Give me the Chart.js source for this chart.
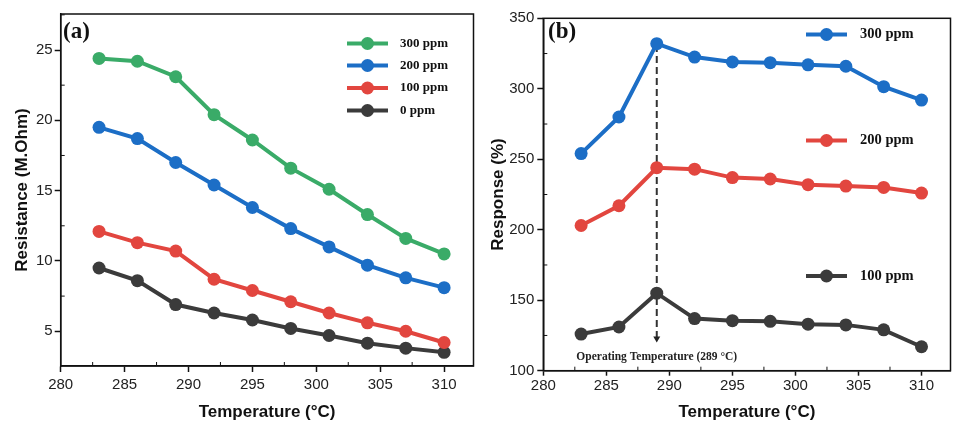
<!DOCTYPE html>
<html><head><meta charset="utf-8">
<script src="https://cdn.jsdelivr.net/npm/chart.js@4.4.0/dist/chart.umd.min.js"></script>
<style>
html,body{margin:0;padding:0;background:#fff;}
#wrap{position:relative;width:957px;height:423px;overflow:hidden;background:#fff;}
#ca{position:absolute;left:0;top:0;}
#cb{position:absolute;left:480px;top:0;}
</style></head><body>
<div id="wrap"><canvas id="ca" width="480" height="423"></canvas><canvas id="cb" width="477" height="423"></canvas></div>
<script>
// ---------- data ----------
const temperatures = [283, 286, 289, 292, 295, 298, 301, 304, 307, 310];
// (a) resistance (M.Ohm)
const resistance300 = [24.4, 24.2, 23.1, 20.4, 18.6, 16.6, 15.1, 13.3, 11.6, 10.5];
const resistance200 = [19.5, 18.7, 17.0, 15.4, 13.8, 12.3, 11.0, 9.7, 8.8, 8.1];
const resistance100 = [12.1, 11.3, 10.7, 8.7, 7.9, 7.1, 6.3, 5.6, 5.0, 4.2];
const resistance0   = [9.5, 8.6, 6.9, 6.3, 5.8, 5.2, 4.7, 4.15, 3.8, 3.5];
// (b) response (%)
const response300 = [254, 280, 332, 322.5, 319, 318.5, 317, 316, 301.5, 292];
const response200 = [203, 217, 244, 243, 237, 236, 232, 231, 230, 226];
const response100 = [126, 131, 155, 137, 135.5, 135, 133, 132.5, 129, 117];
// ticks
const xTicks = [280, 285, 290, 295, 300, 305, 310];
const resistanceTicks = [5, 10, 15, 20, 25];
const responseTicks = [100, 150, 200, 250, 300, 350];
// annotation
const operatingTemp = 289;
const arrowFrom = 331;
const arrowTo = 120;
const operatingLabel = 'Operating Temperature (289 °C)';

// ---------- styles ----------
const GREEN = '#3aab68', BLUE = '#1c6ec6', RED = '#e2463f', DARK = '#3b3b3b';
const SANS = '"Liberation Sans", Arial, sans-serif';
const SERIF = '"Liberation Serif", "Times New Roman", serif';

function series(label, ys, color) {
  return {
    label, data: temperatures.map((t, i) => ({x: t, y: ys[i]})),
    borderColor: color, backgroundColor: color, pointBackgroundColor: color,
    pointBorderColor: color, borderWidth: 4, pointRadius: 6.5, pointBorderWidth: 0,
    tension: 0, fill: false
  };
}

const framePlugin = {
  id: 'frame',
  afterDraw(chart) {
    const {ctx, chartArea: a, scales} = chart;
    ctx.save();
    ctx.strokeStyle = '#111'; ctx.lineWidth = 1.5;
    ctx.strokeRect(a.left, a.top, a.right - a.left, a.bottom - a.top);
    // minor ticks (inward)
    ctx.lineWidth = 1;
    const xs = scales.x, ys = scales.y;
    for (let i = 0; i < xTicks.length; i++) {
      const v = xTicks[i] + 2.5;
      if (v > xs.max) break;
      const px = xs.getPixelForValue(v);
      ctx.beginPath(); ctx.moveTo(px, a.bottom); ctx.lineTo(px, a.bottom - 4); ctx.stroke();
    }
    const yt = chart.options.plugins.frame.yTicks;
    const step = yt[1] - yt[0];
    for (let i = -1; i < yt.length; i++) {
      const v = (i < 0 ? yt[0] : yt[i]) + (i < 0 ? -step / 2 : step / 2);
      if (v < ys.min || v > ys.max) continue;
      const py = ys.getPixelForValue(v);
      ctx.beginPath(); ctx.moveTo(a.left, py); ctx.lineTo(a.left + 4, py); ctx.stroke();
    }
    ctx.restore();
  }
};

const keyPlugin = {
  id: 'key',
  afterDatasetsDraw(chart) {
    const o = chart.options.plugins.key;
    const {ctx} = chart;
    ctx.save();
    // panel label
    ctx.fillStyle = '#111';
    ctx.font = 'bold 23px ' + SERIF;
    ctx.textBaseline = 'alphabetic'; ctx.textAlign = 'left';
    ctx.fillText(o.panel, o.panelX, o.panelY);
    // legend entries
    chart.data.datasets.forEach((ds, i) => {
      const y = o.rows[i];
      ctx.strokeStyle = ds.borderColor; ctx.lineWidth = 4;
      ctx.beginPath(); ctx.moveTo(o.x0, y); ctx.lineTo(o.x1, y); ctx.stroke();
      ctx.fillStyle = ds.borderColor;
      ctx.beginPath(); ctx.arc((o.x0 + o.x1) / 2, y, 6.5, 0, Math.PI * 2); ctx.fill();
      ctx.fillStyle = '#111';
      ctx.font = 'bold ' + o.fontSize + 'px ' + SERIF;
      ctx.textBaseline = 'middle';
      ctx.fillText(ds.label, o.tx, y);
    });
    ctx.restore();
  }
};

const arrowPlugin = {
  id: 'arrow',
  beforeDatasetsDraw(chart) {
    if (!chart.options.plugins.arrow.on) return;
    const {ctx, scales: {x, y}} = chart;
    const px = x.getPixelForValue(operatingTemp);
    const y0 = y.getPixelForValue(arrowFrom), y1 = y.getPixelForValue(arrowTo);
    ctx.save();
    ctx.strokeStyle = '#333'; ctx.lineWidth = 2; ctx.setLineDash([7, 4]);
    ctx.beginPath(); ctx.moveTo(px, y0); ctx.lineTo(px, y1 - 5); ctx.stroke();
    ctx.restore();
  },
  afterDatasetsDraw(chart) {
    if (!chart.options.plugins.arrow.on) return;
    const {ctx, scales: {x, y}} = chart;
    const px = x.getPixelForValue(operatingTemp);
    const y1 = y.getPixelForValue(arrowTo);
    ctx.save();
    ctx.fillStyle = '#222';
    ctx.beginPath(); ctx.moveTo(px - 3.5, y1 - 6); ctx.lineTo(px + 3.5, y1 - 6); ctx.lineTo(px, y1); ctx.closePath(); ctx.fill();
    ctx.font = 'bold 11.5px ' + SERIF;
    ctx.textAlign = 'center'; ctx.textBaseline = 'middle';
    ctx.fillText(operatingLabel, px, y1 + 15);
    ctx.restore();
  }
};

function axes(cfg) {
  return {
    x: {
      type: 'linear', min: 280, max: 312.3,
      afterBuildTicks: s => { s.ticks = xTicks.map(v => ({value: v})); },
      afterFit: s => { s.height = cfg.xH; },
      grid: {drawOnChartArea: false, tickLength: cfg.xTL, color: '#111', tickWidth: 1.5},
      border: {color: '#111', width: 1.5},
      ticks: {font: {family: SANS, size: 15}, color: '#222', padding: cfg.xPad, maxRotation: 0, autoSkip: false},
      title: {display: true, text: 'Temperature (°C)', font: {family: SANS, size: 17, weight: 'bold'}, color: '#111', padding: 0}
    },
    y: {
      min: cfg.yMin, max: cfg.yMax,
      afterBuildTicks: s => { s.ticks = cfg.yTicks.map(v => ({value: v})); },
      afterFit: s => { s.width = cfg.yW; },
      grid: {drawOnChartArea: false, tickLength: 6, color: '#111', tickWidth: 1.5},
      border: {color: '#111', width: 1.5},
      ticks: {font: {family: SANS, size: 15}, color: '#222', padding: cfg.yPad, autoSkip: false},
      title: {display: true, text: cfg.yTitle, font: {family: SANS, size: 17, weight: 'bold'}, color: '#111', padding: {top: cfg.yTitlePad, bottom: 0}}
    }
  };
}

new Chart(document.getElementById('ca'), {
  type: 'line',
  data: {datasets: [
    series('300 ppm', resistance300, GREEN),
    series('200 ppm', resistance200, BLUE),
    series('100 ppm', resistance100, RED),
    series('0 ppm', resistance0, DARK)
  ]},
  options: {
    responsive: false, animation: false, devicePixelRatio: 1,
    layout: {padding: {top: 14, right: 6, left: 0, bottom: 0}},
    plugins: {
      legend: {display: false}, tooltip: {enabled: false},
      frame: {yTicks: resistanceTicks},
      key: {panel: '(a)', panelX: 63, panelY: 38, x0: 347, x1: 388, tx: 400, rows: [43.5, 65.5, 88, 110.5], fontSize: 13},
      arrow: {on: false}
    },
    scales: axes({xH: 57, xTL: 6, xPad: 4, yMin: 2.53, yMax: 27.56, yTicks: resistanceTicks, yW: 60.7, yPad: 2, yTitle: 'Resistance (M.Ohm)', yTitlePad: 12})
  },
  plugins: [framePlugin, keyPlugin, arrowPlugin]
});

new Chart(document.getElementById('cb'), {
  type: 'line',
  data: {datasets: [
    series('300 ppm', response300, BLUE),
    series('200 ppm', response200, RED),
    series('100 ppm', response100, DARK)
  ]},
  options: {
    responsive: false, animation: false, devicePixelRatio: 1,
    layout: {padding: {top: 18.3, right: 2, left: 0, bottom: 0}},
    plugins: {
      legend: {display: false}, tooltip: {enabled: false},
      frame: {yTicks: responseTicks},
      key: {panel: '(b)', panelX: 68, panelY: 38, x0: 326, x1: 367, tx: 380, rows: [34.5, 140.5, 276], fontSize: 14.5},
      arrow: {on: true}
    },
    scales: axes({xH: 52.3, xTL: 5, xPad: 1, yMin: 100, yMax: 350, yTicks: responseTicks, yW: 63.3, yPad: 3, yTitle: 'Response (%)', yTitlePad: 8})
  },
  plugins: [framePlugin, keyPlugin, arrowPlugin]
});
</script>
</body></html>
